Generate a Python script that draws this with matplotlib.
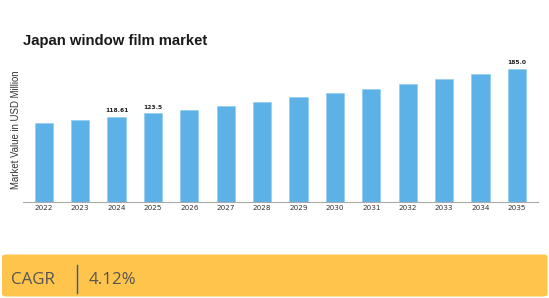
import matplotlib
matplotlib.use('Agg')
import matplotlib.pyplot as plt
from matplotlib.patches import FancyBboxPatch
from matplotlib.lines import Line2D

# 数据
years = ['2022', '2023', '2024', '2025', '2026', '2027', '2028',
         '2029', '2030', '2031', '2032', '2033', '2034', '2035']
values = [109.3, 113.8, 118.61, 123.5, 128.3, 133.7, 139.3,
          145.2, 150.8, 157.2, 164.0, 170.6, 177.5, 185.0]
labels = {'2024': '118.61', '2025': '123.5', '2035': '185.0'}
cagr = '4.12%'

fig = plt.figure(figsize=(5.49, 2.98), dpi=100)
W, H = 549, 298

ax = fig.add_axes([22.7 / W, 1 - 202.3 / H, (538.3 - 22.7) / W, (202.3 - 57.7) / H])
x = list(range(len(years)))
bars = ax.bar(x, values, width=0.5, color='#5CB2E6', edgecolor='#8CCAEE', linewidth=0.4)

for i, y in enumerate(years):
    if y in labels:
        ax.annotate(labels[y], (i, values[i]), xytext=(0, 2.2), textcoords='offset points',
                    ha='center', va='bottom', fontsize=4.3, fontweight='bold', color='#222222')

ax.set_xlim(-0.58, 13.59)
ax.set_ylim(0, 200)
ax.set_xticks(x)
ax.set_xticklabels(years, fontsize=5.2, color='#333333')
ax.tick_params(axis='x', length=0, pad=2.3)
ax.set_yticks([])
for s in ['left', 'right', 'top']:
    ax.spines[s].set_visible(False)
ax.spines['bottom'].set_color('#aaaaaa')
ax.spines['bottom'].set_linewidth(0.8)

fig.text(16.5 / W, 1 - 129.5 / H, 'Market Value in USD Million', rotation=90,
         ha='center', va='center', fontsize=6.9, family='Liberation Sans', color='#333333')

fig.text(23 / W, 1 - 41 / H, 'Japan window film market', ha='left', va='center',
         fontsize=10.7, fontweight='bold', family='Liberation Sans', color='#1a1a1a')

# CAGR 横条
box = FancyBboxPatch((2 / W, 1.5 / H), 545.5 / W, (296.5 - 254.5) / H,
                     boxstyle='round,pad=0,rounding_size=0.008',
                     transform=fig.transFigure, facecolor='#FEC44B', edgecolor='none')
fig.patches.append(box)
fig.lines.append(Line2D([77.3 / W, 77.3 / W], [1 - 265 / H, 1 - 293 / H],
                        transform=fig.transFigure, color='#1F5FAF', linewidth=1.0))
fig.text(10.5 / W, 1 - 280.5 / H, 'CAGR', ha='left', va='center', fontsize=12.2,
         family='Open Sans', color='#555555')
fig.text(88.5 / W, 1 - 280.5 / H, cagr, ha='left', va='center', fontsize=12.2,
         family='Open Sans', color='#555555')

fig.savefig('out.png', dpi=100)
